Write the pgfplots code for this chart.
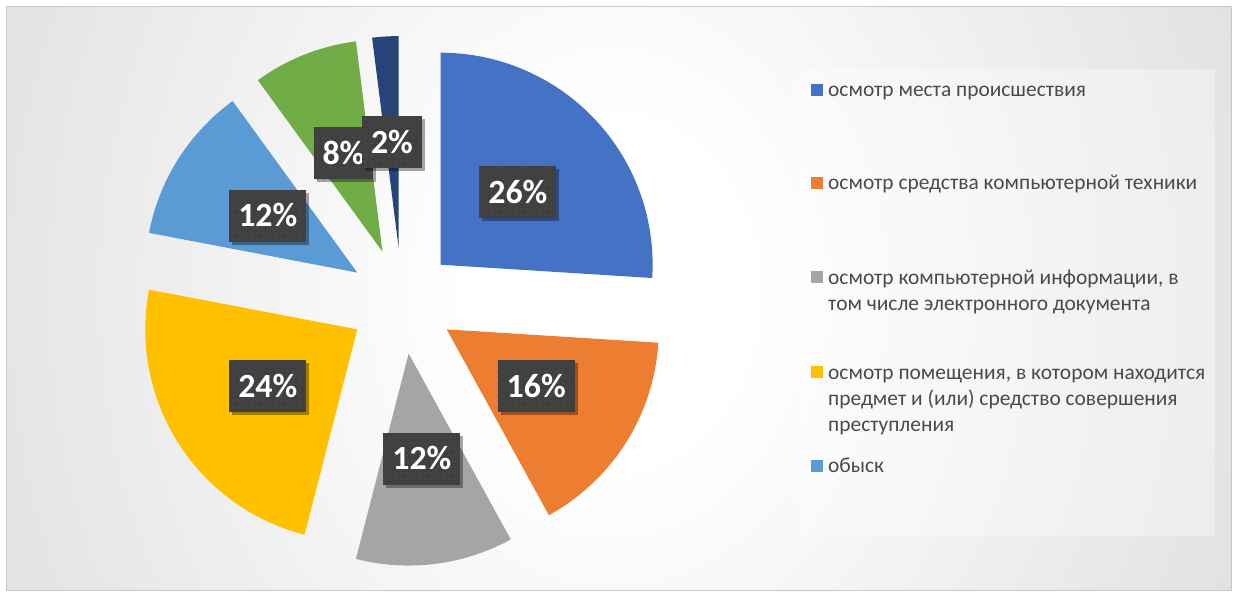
\documentclass[border=0pt]{standalone}
\usepackage{pgfplots}
\pgfplotsset{compat=1.18}
\usepackage{fontspec}
\setmainfont{Carlito}
\usetikzlibrary{shadows,patterns.meta}

\definecolor{cA}{HTML}{4472C4}
\definecolor{cB}{HTML}{ED7D31}
\definecolor{cC}{HTML}{A5A5A5}
\definecolor{cD}{HTML}{FFC000}
\definecolor{cE}{HTML}{5B9BD5}
\definecolor{cF}{HTML}{70AD47}
\definecolor{cG}{HTML}{264478}
\definecolor{lab}{HTML}{404040}
\definecolor{labdot}{HTML}{555555}
\definecolor{txt}{HTML}{4A4A4A}
\definecolor{bgg}{HTML}{B9B9B9}
\definecolor{frm}{HTML}{C8C8C8}

\pgfdeclareradialshading{bgshade}{\pgfpoint{0bp}{0bp}}{color(0bp)=(white); color(5bp)=(white); color(50bp)=(bgg)}

\tikzdeclarepattern{
  name=ldots,
  type=uncolored,
  bounding box={(-3bp,-3bp) and (3bp,3bp)},
  tile size={(6bp,6bp)},
  code={\fill (0bp,0bp) circle (0.8bp);}
}

\tikzset{
  lbl/.style={
    drop shadow={shadow xshift=3bp, shadow yshift=-3bp, opacity=0.35, fill=black},
    preaction={fill=lab},
    pattern={ldots}, pattern color=labdot,
    font=\fontsize{34}{40}\selectfont\bfseries, text=white,
    minimum height=52bp, inner xsep=9bp, inner ysep=0pt,
    text height=22bp, text depth=0bp
  }
}

\begin{document}
\begin{tikzpicture}[x=1bp,y=1bp]
\path (0,0) rectangle (1233,593);
% chart area background
\fill[bgg] (6,2) rectangle (1231,586);
\begin{scope}
  \clip (6,2) rectangle (1231,586);
  \shade[shading=bgshade] (610,300) ellipse [x radius=700, y radius=850];
\end{scope}
\fill[white, opacity=0.35] (799,57) rectangle (1215,524);
\draw[frm, line width=1bp] (6,2) rectangle (1231,586);

\begin{axis}[
  at={(0,0)}, anchor=south west,
  scale only axis, width=1233bp, height=593bp,
  xmin=0, xmax=1233, ymin=0, ymax=593,
  hide axis, clip=false,
  legend image code/.code={\fill[#1] (0bp,27bp) rectangle (12bp,39bp);},
  legend cell align=left,
  legend style={at={(axis cs:811,513)}, anchor=north west, draw=none, fill=none,
    inner sep=0pt, row sep=7bp, column sep=5bp,
    font=\fontsize{21.5}{26}\selectfont, text=txt,
    nodes={inner sep=0pt, text depth=, text height=}},
]
% pie centre (402,292), radius 212, every slice exploded by 53 along its middle
% 26% : 90 -> -3.6
\addplot[fill=cA, draw=none, domain=-3.6:90, samples=80, variable=\t] ({440.64+212*cos(\t)},{328.28+212*sin(\t)}) -- (axis cs:440.64,328.28) -- cycle;
\addlegendentry{\rule[-70bp]{0pt}{86bp}осмотр места происшествия}
% 16% : -3.6 -> -61.2
\addplot[fill=cB, draw=none, domain=-61.2:-3.6, samples=60, variable=\t] ({446.75+212*cos(\t)},{263.60+212*sin(\t)}) -- (axis cs:446.75,263.60) -- cycle;
\addlegendentry{\rule[-70bp]{0pt}{86bp}осмотр средства компьютерной техники}
% 12% : -61.2 -> -104.4
\addplot[fill=cC, draw=none, domain=-104.4:-61.2, samples=50, variable=\t] ({408.64+212*cos(\t)},{239.42+212*sin(\t)}) -- (axis cs:408.64,239.42) -- cycle;
\addlegendentry{\rule[-70bp]{0pt}{86bp}\begin{tabular}[t]{@{}l@{}}осмотр компьютерной информации, в\\том числе электронного документа\end{tabular}}
% 24% : -104.4 -> -190.8
\addplot[fill=cD, draw=none, domain=-190.8:-104.4, samples=80, variable=\t] ({357.25+212*cos(\t)},{263.60+212*sin(\t)}) -- (axis cs:357.25,263.60) -- cycle;
\addlegendentry{\rule[-70bp]{0pt}{86bp}\begin{tabular}[t]{@{}l@{}}осмотр помещения, в котором находится\\предмет и (или) средство совершения\\преступления\end{tabular}}
% 12% : -190.8 -> -234
\addplot[fill=cE, draw=none, domain=-234:-190.8, samples=50, variable=\t] ({357.25+212*cos(\t)},{320.40+212*sin(\t)}) -- (axis cs:357.25,320.40) -- cycle;
\addlegendentry{\rule[-70bp]{0pt}{86bp}обыск}
% 8% : -234 -> -262.8
\addplot[forget plot, fill=cF, draw=none, domain=-262.8:-234, samples=40, variable=\t] ({382.49+212*cos(\t)},{341.28+212*sin(\t)}) -- (axis cs:382.49,341.28) -- cycle;
% 2% : -262.8 -> -270
\addplot[forget plot, fill=cG, draw=none, domain=-270:-262.8, samples=20, variable=\t] ({398.67+212*cos(\t)},{344.89+212*sin(\t)}) -- (axis cs:398.67,344.89) -- cycle;

% data labels
\node[lbl] at (axis cs:517.9,400.8) {26\%};
\node[lbl] at (axis cs:536.2,206.8) {16\%};
\node[lbl] at (axis cs:421.9,134.3) {12\%};
\node[lbl] at (axis cs:267.8,206.8) {24\%};
\node[lbl] at (axis cs:267.8,377.2) {12\%};
\node[lbl] at (axis cs:343.5,439.8) {8\%};
\node[lbl] at (axis cs:392.0,450.7) {2\%};
\end{axis}
\end{tikzpicture}
\end{document}
